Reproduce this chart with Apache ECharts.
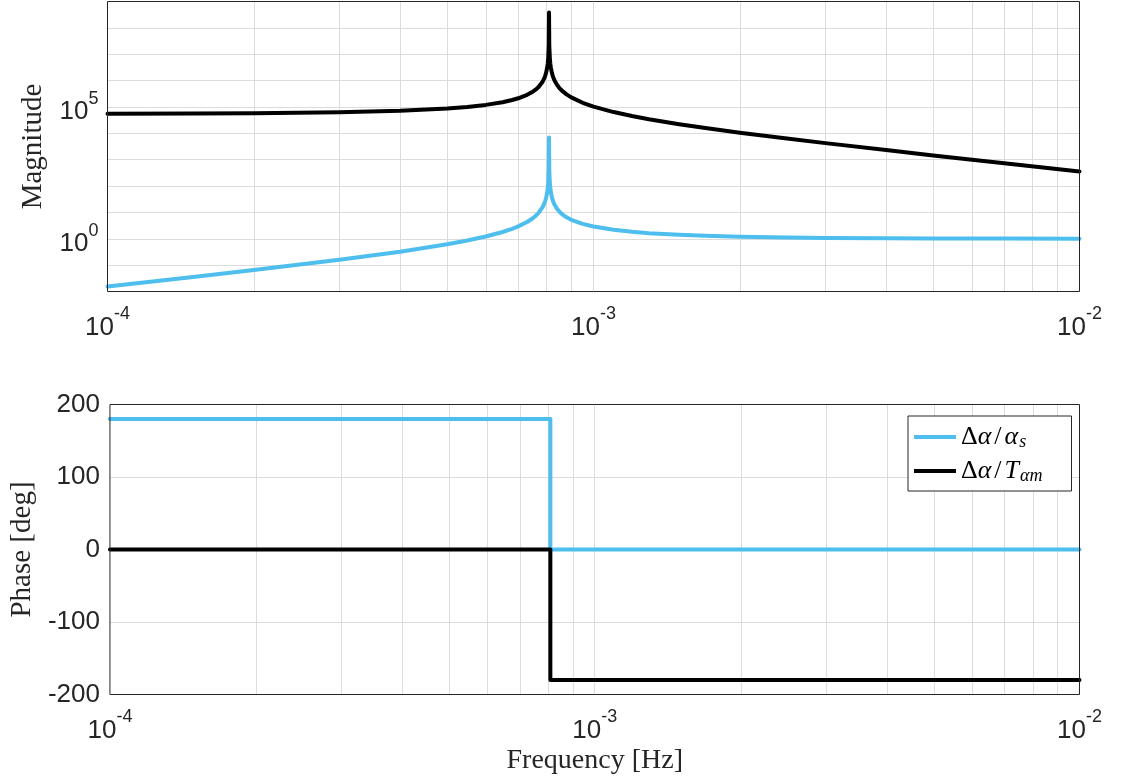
<!DOCTYPE html>
<html>
<head>
<meta charset="utf-8">
<script src="https://cdn.jsdelivr.net/npm/echarts@6/dist/echarts.min.js"></script>
<style>
  html, body { margin: 0; padding: 0; background: #ffffff; }
  #chart { width: 1123px; height: 780px; }
</style>
</head>
<body>
<div id="chart"></div>
<script>
// Frequency points (Hz) for the magnitude curves, dense around the resonance
const freq = [
  1.0e-4, 1.5e-4, 2.0e-4, 3.0e-4, 4.0e-4, 5.0e-4, 5.5e-4, 6.0e-4, 6.5e-4, 6.8e-4,
  7.0e-4, 7.3e-4, 7.5e-4, 7.6e-4, 7.7e-4, 7.85e-4, 7.9e-4, 7.95e-4, 7.99e-4, 8.03e-4,
  8.05e-4, 8.07e-4, 8.09e-4, 8.1e-4, 8.11e-4, 8.13e-4, 8.15e-4, 8.17e-4, 8.21e-4, 8.25e-4,
  8.3e-4, 8.4e-4, 8.5e-4, 8.6e-4, 8.8e-4, 9.0e-4, 9.5e-4, 1.0e-3, 1.1e-3, 1.2e-3,
  1.3e-3, 1.5e-3, 1.7e-3, 2.0e-3, 2.5e-3, 3.0e-3, 4.0e-3, 5.0e-3, 7.0e-3, 1.0e-2
];

// |Δα/α_s|
const magAlphaS = [
  0.01548, 0.03551, 0.06492, 0.1590, 0.3225, 0.6156, 0.8555, 1.216, 1.809, 2.387,
  2.950, 4.326, 6.010, 7.358, 9.382, 15.45, 19.50, 26.25, 36.07, 57.11,
  80.25, 134.2, 404.0, 7000, 405.7, 135.8, 81.75, 58.61, 37.57, 27.75,
  21.00, 14.25, 10.88, 8.858, 6.546, 5.263, 3.663, 2.908, 2.185, 1.837,
  1.635, 1.412, 1.294, 1.196, 1.117, 1.079, 1.043, 1.027, 1.014, 1.007
];

// |Δα/T_αm|
const magTorque = [
  5.484e4, 5.592e4, 5.751e4, 6.259e4, 7.142e4, 8.724e4, 1.002e5, 1.197e5, 1.517e5, 1.829e5,
  2.133e5, 2.876e5, 3.785e5, 4.513e5, 5.606e5, 8.885e5, 1.107e6, 1.472e6, 2.002e6, 3.138e6,
  4.388e6, 7.303e6, 2.187e7, 3.8e8, 2.185e7, 7.278e6, 4.361e6, 3.111e6, 1.975e6, 1.445e6,
  1.080e6, 7.157e5, 5.336e5, 4.243e5, 2.995e5, 2.302e5, 1.438e5, 1.030e5, 6.396e4, 4.520e4,
  3.427e4, 2.223e4, 1.586e4, 1.060e4, 6334, 4246, 2309, 1455, 732.9, 356.6
];

// Phase (deg): a step at the resonance frequency
const phaseFreq   = [1.0e-4, 8.1e-4, 8.1e-4, 1.0e-2];
const phaseAlphaS = [180, 180, 0, 0];
const phaseTorque = [0, 0, -180, -180];

// Axis ranges and labelled ticks
const freqRange   = [1e-4, 1e-2];
const magRange    = [1e-2, 1e9];
const phaseRange  = [-200, 200];
const magLabelExp = [0, 5];
const gridDecades = [1e-4, 1e-3];
const minorSteps  = [2, 3, 4, 5, 6, 7, 8, 9];

const BLUE = '#4DBEEE';
const INK = '#262626';
const GRID = '#dcdcdc';
const SANS = 'Liberation Sans';
const SERIF = 'Liberation Serif';

const pairs = (xs, ys) => xs.map((x, i) => [x, ys[i]]);
const minorFreqs = gridDecades.flatMap(d => minorSteps.map(m => m * d));

const powRich = {
  b: { fontFamily: SANS, fontSize: 26, color: INK, lineHeight: 44, verticalAlign: 'middle' },
  s: { fontFamily: SANS, fontSize: 18, color: INK, lineHeight: 20, verticalAlign: 'top' }
};
const powLabel = v => {
  const e = Math.round(Math.log10(v));
  return '{b|10}{s|' + e + '}';
};

const gridLine = { show: true, showMinLine: false, showMaxLine: false, lineStyle: { color: GRID, width: 1 } };

function freqAxis(gridIndex, nameShown) {
  return {
    type: 'log', logBase: 10, gridIndex,
    min: freqRange[0], max: freqRange[1], interval: 1,
    name: nameShown ? 'Frequency [Hz]' : '',
    nameLocation: 'middle', nameGap: 52,
    nameTextStyle: { fontFamily: SERIF, fontSize: 28, color: INK },
    axisLine: { show: false }, axisTick: { show: false },
    splitLine: gridLine,
    axisLabel: {
      formatter: powLabel, rich: powRich, margin: 14,
      showMinLabel: true, showMaxLabel: true, hideOverlap: false
    }
  };
}

// Vertical grid lines at 2..9 within each decade, spanning the plot height
function minorGridSeries(axisIndex, yRef) {
  return {
    type: 'custom', coordinateSystem: 'cartesian2d',
    xAxisIndex: axisIndex, yAxisIndex: axisIndex,
    data: minorFreqs.map(f => [f, yRef]),
    z: 1, silent: true, clip: false, animation: false,
    renderItem: (params, api) => {
      const x = Math.round(api.coord([api.value(0), yRef])[0]) + 0.5;
      const cs = params.coordSys;
      return {
        type: 'line',
        shape: { x1: x, y1: cs.y, x2: x, y2: cs.y + cs.height },
        style: { stroke: GRID, lineWidth: 1 }
      };
    }
  };
}

function curve(name, axisIndex, data, color) {
  return {
    name, type: 'line', xAxisIndex: axisIndex, yAxisIndex: axisIndex, data,
    showSymbol: false, symbol: 'none', z: 3, animation: false,
    color, lineStyle: { color, width: 4, cap: 'round', join: 'round' }
  };
}

const legendRich = {
  up: { fontFamily: SERIF, fontSize: 26, color: '#000', lineHeight: 28 },
  sl: { fontFamily: SERIF, fontSize: 26, color: '#000', lineHeight: 28, padding: [0, 3, 0, 3] },
  it: { fontFamily: SERIF, fontSize: 26, fontStyle: 'italic', color: '#000', lineHeight: 28 },
  sub: { fontFamily: SERIF, fontSize: 18, fontStyle: 'italic', color: '#000', lineHeight: 16, verticalAlign: 'bottom', padding: [0, 0, 0, 1] }
};
const legendText = {
  'Δα/α_s': '{up|Δ}{it|α}{sl|/}{it|α}{sub|s}',
  'Δα/T_αm': '{up|Δ}{it|α}{sl|/}{it|T}{sub|αm}'
};

const chart = echarts.init(document.getElementById('chart'), null, { renderer: 'canvas' });
chart.setOption({
  animation: false,
  backgroundColor: '#ffffff',
  grid: [
    { left: 107.5, right: 43.5, top: 1.5, height: 290, show: true, borderColor: INK, borderWidth: 1, backgroundColor: 'transparent', z: 4 },
    { left: 107.5, right: 43.5, top: 404.5, height: 290, show: true, borderColor: INK, borderWidth: 1, backgroundColor: 'transparent', z: 4 }
  ],
  xAxis: [freqAxis(0, false), freqAxis(1, true)],
  yAxis: [
    {
      type: 'log', logBase: 10, gridIndex: 0,
      min: magRange[0], max: magRange[1], interval: 1,
      name: 'Magnitude', nameLocation: 'middle', nameGap: 60,
      nameTextStyle: { fontFamily: SERIF, fontSize: 29, color: INK },
      axisLine: { show: false }, axisTick: { show: false },
      splitLine: gridLine,
      axisLabel: {
        margin: 9, rich: powRich, padding: [10, 0, 0, 0],
        formatter: v => magLabelExp.includes(Math.round(Math.log10(v))) ? powLabel(v) : ''
      }
    },
    {
      type: 'value', gridIndex: 1,
      min: phaseRange[0], max: phaseRange[1], interval: 100,
      name: 'Phase [deg]', nameLocation: 'middle', nameGap: 70,
      nameTextStyle: { fontFamily: SERIF, fontSize: 29, color: INK },
      axisLine: { show: false }, axisTick: { show: false },
      splitLine: gridLine,
      axisLabel: { margin: 10, fontFamily: SANS, fontSize: 26, color: INK }
    }
  ],
  legend: {
    data: ['Δα/α_s', 'Δα/T_αm'],
    orient: 'vertical', left: 908, top: 416,
    icon: 'rect', itemWidth: 42, itemHeight: 4, itemGap: 7,
    padding: [8, 29, 6, 6],
    backgroundColor: '#ffffff', borderColor: INK, borderWidth: 1, borderRadius: 0,
    selectedMode: false,
    formatter: name => legendText[name],
    textStyle: { rich: legendRich }
  },
  series: [
    minorGridSeries(0, 1),
    minorGridSeries(1, 0),
    curve('Δα/α_s', 0, pairs(freq, magAlphaS), BLUE),
    curve('Δα/T_αm', 0, pairs(freq, magTorque), '#000000'),
    curve('Δα/α_s', 1, pairs(phaseFreq, phaseAlphaS), BLUE),
    curve('Δα/T_αm', 1, pairs(phaseFreq, phaseTorque), '#000000')
  ]
});
</script>
</body>
</html>
